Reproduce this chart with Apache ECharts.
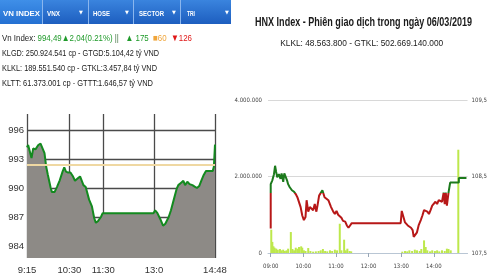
<!DOCTYPE html>
<html><head><meta charset="utf-8">
<script src="https://cdn.jsdelivr.net/npm/echarts@6/dist/echarts.min.js"></script>
<style>html,body{margin:0;padding:0;background:#fff}#c{width:490px;height:276px}</style>
</head><body><div id="c"></div>
<script>
// ---------- DATA: VN-Index (left) ----------
const vnTime = ['9:15','9:17','9:23','9:26','9:30','9:35','9:39','9:42','9:46','9:49','9:52','9:57','9:59','10:04','10:08','10:13','10:18','10:21','10:24','10:28','10:32','10:36','10:40','10:45','10:49','10:52','10:55','10:59','11:02','11:05','11:10','11:14','11:17','11:21','11:26','11:29','12:59','13:02','13:06','13:11','13:16','13:20','13:26','13:30','13:35','13:40','13:43','13:47','13:52','13:55','13:59','14:03','14:08','14:12','14:16','14:20','14:24','14:28','14:32','14:37','14:44','14:46','14:48'];
const vnValue = [994.2,994.45,993.1,994.1,994.0,994.45,994.6,994.5,993.6,992.2,991.35,990.0,989.6,989.6,990.1,990.8,991.7,992.15,991.7,991.6,991.6,991.25,990.75,991.0,991.2,991.0,990.3,990.1,989.9,988.8,988.1,986.9,986.4,986.6,987.0,987.4,987.4,987.7,987.4,986.8,986.1,986.3,987.0,987.7,988.8,989.9,990.3,990.5,990.75,990.3,990.65,990.4,990.3,990.15,990.0,990.2,990.8,991.35,991.75,991.75,991.75,992.2,994.49];
const vnRefValue = 992.45;
const vnYTicks = [984, 987, 990, 993, 996];
const vnXTicks = ['9:15','10:30','11:30','13:0','14:48'];
const tabLabels = ['VN INDEX','VNX','HOSE','SECTOR','TRI'];
const vnLine1 = ['Vn Index: ','994,49▲2,04(0.21%)',' ||   ','▲ 175','  ■60','  ▼126'];
const vnLine2 = 'KLGD: 250.924.541 cp - GTGD:5.104,42 tỷ VND';
const vnLine3 = 'KLKL: 189.551.540 cp - GTKL:3.457,84 tỷ VND';
const vnLine4 = 'KLTT: 61.373.001 cp - GTTT:1.646,57 tỷ VND';

// ---------- DATA: HNX-Index (right) ----------
const hnxTitle = 'HNX Index - Phiên giao dịch trong ngày 06/03/2019';
const hnxSubtitle = 'KLKL: 48.563.800 - GTKL: 502.669.140.000';
const hnxTime = ['09:00','09:00','09:03','09:06','09:08','09:10','09:12','09:15','09:18','09:20','09:23','09:25','09:28','09:30','09:32','09:35','09:39','09:43','09:46','09:49','09:52','09:55','09:58','10:01','10:04','10:06','10:09','10:12','10:15','10:18','10:21','10:24','10:26','10:29','10:32','10:35','10:37','10:39','10:42','10:46','10:49','10:51','10:55','10:58','11:01','11:04','11:07','11:10','11:13','11:17','11:20','11:23','11:26','11:29','12:59','13:01','13:04','13:07','13:09','13:12','13:15','13:18','13:21','13:23','13:26','13:29','13:32','13:36','13:39','13:42','13:45','13:48','13:51','13:54','13:57','14:00','14:03','14:06','14:09','14:12','14:15','14:18','14:20','14:22','14:24','14:27','14:30','14:30','14:46','14:46','15:00'];
const hnxPrice = [107.82,108.40,108.45,108.53,108.64,108.56,108.49,108.53,108.47,108.54,108.43,108.54,108.56,108.45,108.40,108.36,108.32,108.30,108.27,108.23,108.21,108.10,107.99,107.93,107.97,108.19,108.04,108.10,108.12,108.06,108.14,108.04,108.12,108.25,108.27,108.32,108.30,108.23,108.21,108.19,108.21,108.10,108.04,108.01,108.05,108.00,107.99,107.96,107.92,107.91,107.86,107.83,107.86,107.89,107.89,108.05,108.04,107.90,107.88,107.86,107.85,107.83,107.80,107.71,107.73,107.77,107.86,107.93,107.99,108.06,108.04,108.04,108.01,108.06,108.12,108.12,108.17,108.14,108.19,108.21,108.17,108.29,108.14,108.29,108.12,108.29,108.29,108.42,108.42,108.48,108.48];
const hnxRefValue = 108.28;
const hnxVolTime = ['09:01','09:03','09:05','09:07','09:10','09:13','09:17','09:20','09:23','09:26','09:29','09:32','09:37','09:40','09:43','09:46','09:49','09:52','09:56','09:58','10:01','10:04','10:09','10:13','10:18','10:23','10:28','10:32','10:36','10:40','10:44','10:49','10:53','10:58','11:02','11:07','11:10','11:15','11:18','11:21','11:25','11:28','13:02','13:07','13:11','13:15','13:20','13:25','13:29','13:34','13:37','13:42','13:45','13:48','13:53','13:57','14:02','14:06','14:10','14:15','14:20','14:24','14:27','14:31','14:45'];
const hnxVolume = [610000,290000,175000,140000,115000,87000,104000,70000,87000,52000,70000,113000,548000,104000,70000,139000,113000,157000,174000,139000,70000,52000,130000,52000,35000,43000,52000,70000,104000,52000,43000,70000,52000,87000,70000,765000,70000,348000,70000,113000,52000,43000,35000,52000,43000,70000,52000,87000,70000,52000,104000,330000,157000,70000,43000,70000,52000,70000,43000,70000,52000,113000,104000,70000,2700000];
const hnxXTicks = ['09:00','10:00','11:00','12:00','13:00','14:00'];

// ---------- helpers ----------
const toMin = s => { const p = s.split(':').map(Number); return p[0] * 60 + p[1]; };
const pad = n => (n < 10 ? '0' : '') + n;
const mctx = document.createElement('canvas').getContext('2d');
function fitScale(text, font, w) { mctx.font = font; return w / mctx.measureText(text).width; }
function gText(text, x, y, w, font, fill, align, rich) {
  const plain = Array.isArray(text) ? text.join('') : text;
  return {
    type: 'text', x: x, y: y, scaleX: fitScale(plain, font, w), silent: true, z: 100,
    style: { text: rich ? rich : plain, font: font, fill: fill,
      textAlign: align || 'left', align: align || 'left',
      textVerticalAlign: 'middle', verticalAlign: 'middle' }
  };
}
const NARROW = "'Liberation Sans Narrow','DejaVu Sans Condensed','Liberation Sans',sans-serif";

// ---------- graphics (header, tabs, titles) ----------
const graphics = [];
graphics.push({ type: 'rect', shape: { x: 0, y: 0, width: 231, height: 24 }, silent: true,
  style: { fill: new echarts.graphic.LinearGradient(0, 0, 0, 1, [{ offset: 0, color: '#3a84de' }, { offset: 1, color: '#1d5ebf' }]) } });
graphics.push({ type: 'rect', shape: { x: 0, y: 0, width: 42, height: 24 }, silent: true,
  style: { fill: new echarts.graphic.LinearGradient(0, 0, 0, 1, [{ offset: 0, color: '#3f8fe8' }, { offset: 1, color: '#2470d2' }]) } });
[42, 88, 133, 180].forEach(sx => {
  graphics.push({ type: 'line', shape: { x1: sx + 0.5, y1: 0, x2: sx + 0.5, y2: 24 }, silent: true, style: { stroke: '#8ab6ee', lineWidth: 1 } });
});
const tabX = [3, 47, 93, 139, 187];
const tabW = [37, 13, 17, 25, 8];
const tabFont = "bold 7.5px 'Liberation Sans',sans-serif";
tabLabels.forEach((t, i) => graphics.push(gText(t, tabX[i], 14, tabW[i], tabFont, '#ffffff')));
[81, 127, 174, 227].forEach(ax => graphics.push({ type: 'text', x: ax, y: 13, silent: true, z: 100,
  style: { text: '▼', font: "5px 'DejaVu Sans',sans-serif", fill: '#ffffff', textAlign: 'center', align: 'center', textVerticalAlign: 'middle', verticalAlign: 'middle' } }));

const infoFont = "9.5px 'Liberation Sans',sans-serif";
const richLine1 = '{k|' + vnLine1[0] + '}{g|' + vnLine1[1] + '}{s|' + vnLine1[2] + '}{g|' + vnLine1[3] + '}{o|' + vnLine1[4] + '}{r|' + vnLine1[5] + '}';
const l1 = gText(vnLine1, 2, 38, 190, infoFont, '#222', 'left', richLine1);
l1.style.rich = {
  k: { fill: '#222', font: infoFont }, g: { fill: '#1f9a2a', font: infoFont }, s: { fill: '#4a7a4a', font: infoFont },
  o: { fill: '#f0a53a', font: infoFont }, r: { fill: '#e01818', font: infoFont }
};
graphics.push(l1);
graphics.push(gText(vnLine2, 2, 53, 157, infoFont, '#222'));
graphics.push(gText(vnLine3, 2, 68, 155, infoFont, '#222'));
graphics.push(gText(vnLine4, 2, 83, 151, infoFont, '#222'));

graphics.push(gText(hnxTitle, 363.5, 22.5, 217, "bold 12px 'Liberation Sans',sans-serif", '#1a1a1a', 'center'));
graphics.push(gText(hnxSubtitle, 361.7, 43, 163, "9.5px 'Liberation Sans',sans-serif", '#1a1a1a', 'center'));

// ---------- chart ----------
const chart = echarts.init(document.getElementById('c'), null, { renderer: 'canvas' });
const vnTickMin = vnXTicks.map(toMin);
const hnxTickMin = hnxXTicks.map(toMin);
const gridColor = '#4a4a4a';

chart.setOption({
  animation: false,
  backgroundColor: '#ffffff',
  graphic: { elements: graphics },
  grid: [
    { left: 27, top: 114, width: 188, height: 144, containLabel: false },
    { left: 268, top: 100, width: 200, height: 153, containLabel: false }
  ],
  xAxis: [
    { gridIndex: 0, type: 'value', min: toMin(vnTime[0]), max: toMin(vnTime[vnTime.length - 1]),
      axisLine: { show: false },
      axisTick: { show: false, customValues: vnTickMin },
      axisLabel: { customValues: vnTickMin, formatter: v => Math.floor(v / 60) + ':' + (v % 60), fontSize: 9.5, color: '#333', margin: 7, fontFamily: "'Liberation Sans',sans-serif" },
      splitLine: { show: true, lineStyle: { color: gridColor, width: 1.3 } } },
    { gridIndex: 1, type: 'value', min: 535, max: 902,
      axisLine: { show: true, lineStyle: { color: '#b9c6d4', width: 1 } },
      axisTick: { show: true, length: 4, customValues: hnxTickMin, lineStyle: { color: '#98a6b6' } },
      axisLabel: { customValues: hnxTickMin, formatter: v => pad(Math.floor(v / 60)) + ':' + pad(v % 60), fontSize: 6, color: '#444', margin: 10, fontFamily: NARROW },
      splitLine: { show: false } }
  ],
  yAxis: [
    { gridIndex: 0, type: 'value', min: 982.76, max: 997.66,
      axisLine: { show: false },
      axisTick: { show: false, customValues: vnYTicks },
      axisLabel: { customValues: vnYTicks, fontSize: 9.5, color: '#333', margin: 3, fontFamily: "'Liberation Sans',sans-serif" },
      splitLine: { show: true, lineStyle: { color: gridColor, width: 1.3 } } },
    { gridIndex: 1, type: 'value', min: 0, max: 4000000, interval: 2000000,
      axisLine: { show: false }, axisTick: { show: false },
      axisLabel: { formatter: v => String(v).replace(/\B(?=(\d{3})+(?!\d))/g, '.'), fontSize: 6, color: '#444', margin: 6, fontFamily: NARROW },
      splitLine: { show: true, lineStyle: { color: '#d8d8d8', width: 1 } } },
    { gridIndex: 1, type: 'value', position: 'right', min: 107.5, max: 109.5, interval: 1,
      axisLine: { show: false }, axisTick: { show: false },
      axisLabel: { formatter: v => v.toFixed(1).replace('.', ','), fontSize: 6, color: '#444', margin: 4, fontFamily: NARROW },
      splitLine: { show: false } }
  ],
  visualMap: [{
    type: 'piecewise', show: false, seriesIndex: 2, dimension: 1,
    pieces: [{ gt: 100, lt: hnxRefValue, color: '#b71818' }, { gte: hnxRefValue, lt: 120, color: '#1c7a1c' }]
  }],
  series: [
    { type: 'line', xAxisIndex: 0, yAxisIndex: 0, showSymbol: false, silent: true,
      data: vnTime.map((t, i) => [toMin(t), vnValue[i]]),
      lineStyle: { color: '#138a1f', width: 2 },
      itemStyle: { color: '#138a1f' },
      areaStyle: { color: '#8d8a86', opacity: 1, origin: 'start' },
      markLine: { silent: true, symbol: 'none', label: { show: false },
        lineStyle: { color: '#efd8a2', width: 2, type: 'solid' },
        data: [{ yAxis: vnRefValue }] } },
    { type: 'bar', xAxisIndex: 1, yAxisIndex: 1, silent: true, barWidth: 2,
      data: hnxVolTime.map((t, i) => [toMin(t), hnxVolume[i]]),
      itemStyle: { color: '#bde84c' } },
    { type: 'line', xAxisIndex: 1, yAxisIndex: 2, showSymbol: false, silent: true,
      data: hnxTime.map((t, i) => [toMin(t), hnxPrice[i]]),
      lineStyle: { width: 2 } }
  ]
});
</script>
</body></html>
